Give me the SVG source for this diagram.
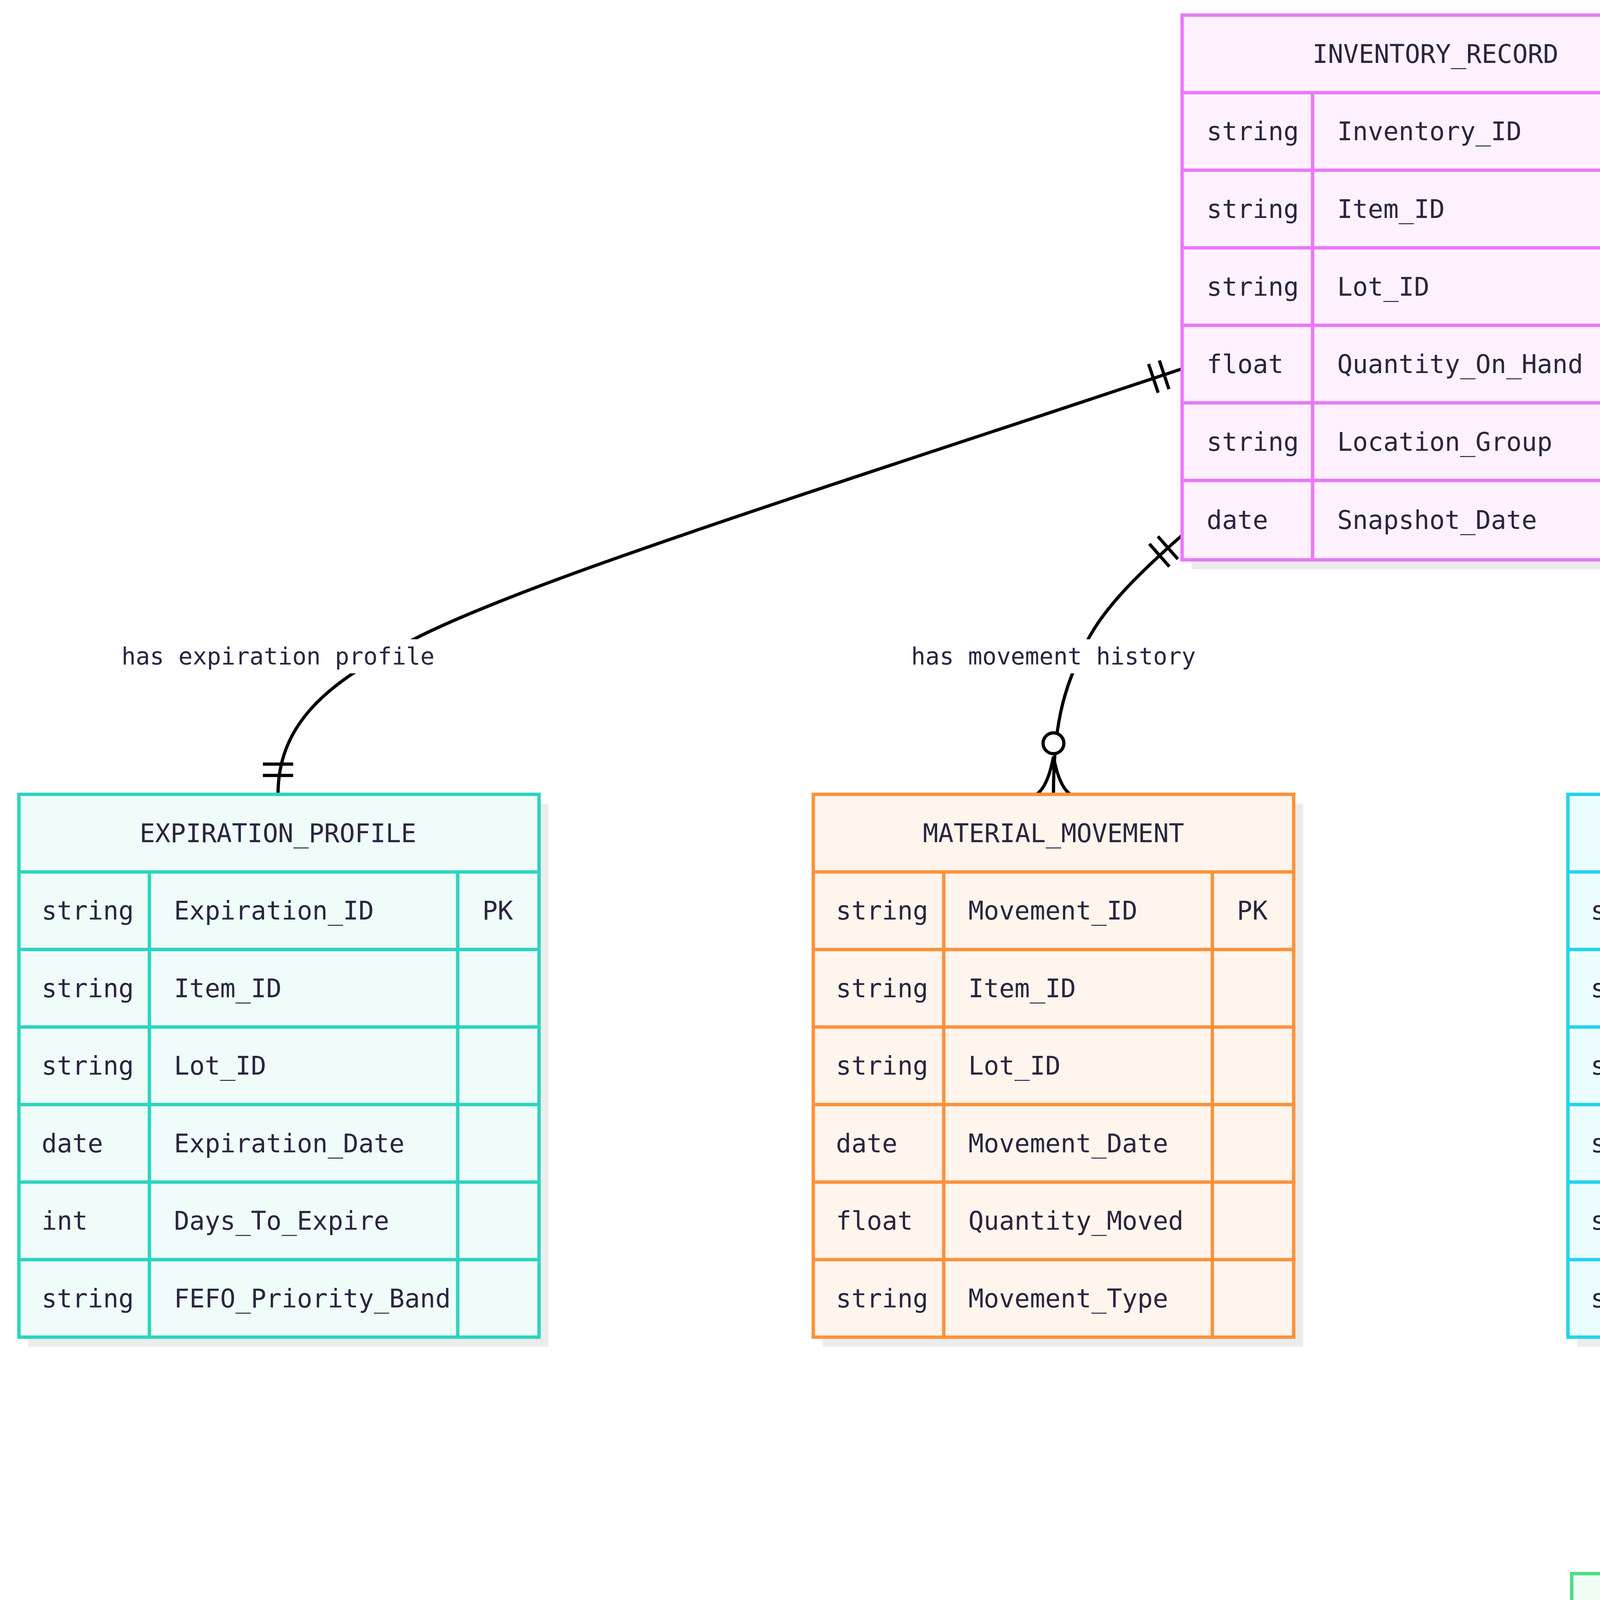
<svg xmlns="http://www.w3.org/2000/svg" width="7592" height="5263" viewBox="0 0 7592 5263">
<style>
text{font-family:"DejaVu Sans Mono","Liberation Mono",monospace;fill:#2a2540;font-size:13.5px;dominant-baseline:central}
.h{text-anchor:middle}
.lbl{font-size:12.5px;text-anchor:middle}
.sh{fill:#ececec}
.c{fill:none;stroke:#000;stroke-width:1.7}
.lb{fill:#fff}
#INVENTORY_RECORD rect.b,#INVENTORY_RECORD line{stroke:#e879f9}#INVENTORY_RECORD rect.b{fill:#fef1fe}
#SNAPSHOT_ARCHIVE rect.b,#SNAPSHOT_ARCHIVE line{stroke:#a78bfa}#SNAPSHOT_ARCHIVE rect.b{fill:#f4f1fe}
#EXPIRATION_PROFILE rect.b,#EXPIRATION_PROFILE line{stroke:#2dd4bf}#EXPIRATION_PROFILE rect.b{fill:#effcf9}
#MATERIAL_MOVEMENT rect.b,#MATERIAL_MOVEMENT line{stroke:#fb923c}#MATERIAL_MOVEMENT rect.b{fill:#fff5ec}
#FEFO_EXCEPTION rect.b,#FEFO_EXCEPTION line{stroke:#22d3ee}#FEFO_EXCEPTION rect.b{fill:#ecfeff}
#SNAPSHOT_RECORD rect.b,#SNAPSHOT_RECORD line{stroke:#f87171}#SNAPSHOT_RECORD rect.b{fill:#fef2f2}
#REVIEW_ACTION rect.b,#REVIEW_ACTION line{stroke:#4ade80}#REVIEW_ACTION rect.b{fill:#f0fdf4}
rect.b,line{stroke-width:1.8}
</style>
<defs>
<marker id="one" markerUnits="userSpaceOnUse" viewBox="-30 -15 32 30" refX="0" refY="0" markerWidth="32" markerHeight="30" orient="auto-start-reverse">
<path d="M-10,-8V8M-16,-8V8" stroke="#000" stroke-width="1.7" fill="none"/>
</marker>
<marker id="many" markerUnits="userSpaceOnUse" viewBox="-40 -15 42 30" refX="0" refY="0" markerWidth="42" markerHeight="30" orient="auto-start-reverse">
<path d="M-20,0Q-4,-3 0,-9M-20,0Q-4,3 0,9" stroke="#000" stroke-width="1.7" fill="none"/>
<circle cx="-27" cy="0" r="5.5" fill="#fff" stroke="#000" stroke-width="1.7"/>
</marker>
</defs>
<g transform="scale(4.8418)">
<g id="connectors">
<path class="c" d="M625,195 C430,260 270,310 215,340 C170,362 147,385 147,420" marker-start="url(#one)" marker-end="url(#one)"/>
<path class="c" d="M625,283 C600,305 580,325 572,345 C562,365 557,385 557,420" marker-start="url(#one)" marker-end="url(#many)"/>
<path class="c" d="M893,283 C918,305 940,325 950,345 C958,365 962,385 962,420" marker-start="url(#one)" marker-end="url(#many)"/>
<path class="c" d="M893,207 C960,236 1030,265 1093,292 C1180,332 1250,365 1275,400" marker-start="url(#one)" marker-end="url(#many)"/>
<path class="c" d="M1435,254 L1435,320 C1435,345 1428,370 1425,400" marker-start="url(#one)" marker-end="url(#many)"/>
<path class="c" d="M962,707 L962,832" marker-start="url(#one)" marker-end="url(#many)"/>
<rect class="lb" x="68" y="338" width="159" height="18"/><text class="lbl" x="147" y="347">has expiration profile</text>
<rect class="lb" x="475" y="338" width="164" height="18"/><text class="lbl" x="557" y="347">has movement history</text>
<rect class="lb" x="912" y="338" width="100" height="18"/><text class="lbl" x="962" y="347">may generate</text>
<rect class="lb" x="1038" y="280" width="110" height="18"/><text class="lbl" x="1093" y="289">represented in</text>
<rect class="lb" x="1402" y="338" width="66" height="18"/><text class="lbl" x="1435" y="347">captures</text>
<rect class="lb" x="897" y="771" width="130" height="18"/><text class="lbl" x="962" y="780">reviewed through</text>
</g>
<g id="INVENTORY_RECORD">
<rect class="sh" x="630" y="13" width="268" height="288"/>
<rect class="b" x="625" y="8" width="268" height="288"/>
<line x1="625" y1="49" x2="893" y2="49"/><line x1="625" y1="90" x2="893" y2="90"/><line x1="625" y1="131" x2="893" y2="131"/><line x1="625" y1="172" x2="893" y2="172"/><line x1="625" y1="213" x2="893" y2="213"/><line x1="625" y1="254" x2="893" y2="254"/>
<line x1="694" y1="49" x2="694" y2="296"/><line x1="851" y1="49" x2="851" y2="296"/>
<text class="h" x="759" y="28.5">INVENTORY_RECORD</text>
<text x="638" y="69.5">string</text><text x="707" y="69.5">Inventory_ID</text><text x="864" y="69.5">PK</text>
<text x="638" y="110.5">string</text><text x="707" y="110.5">Item_ID</text>
<text x="638" y="151.5">string</text><text x="707" y="151.5">Lot_ID</text>
<text x="638" y="192.5">float</text><text x="707" y="192.5">Quantity_On_Hand</text>
<text x="638" y="233.5">string</text><text x="707" y="233.5">Location_Group</text>
<text x="638" y="275">date</text><text x="707" y="275">Snapshot_Date</text>
</g>
<g id="SNAPSHOT_ARCHIVE">
<rect class="sh" x="1317" y="54" width="246" height="205"/>
<rect class="b" x="1312" y="49" width="246" height="205"/>
<line x1="1312" y1="90" x2="1558" y2="90"/><line x1="1312" y1="131" x2="1558" y2="131"/><line x1="1312" y1="172" x2="1558" y2="172"/><line x1="1312" y1="213" x2="1558" y2="213"/>
<line x1="1380" y1="90" x2="1380" y2="254"/><line x1="1515" y1="90" x2="1515" y2="254"/>
<text class="h" x="1435" y="69.5">SNAPSHOT_ARCHIVE</text>
<text x="1324" y="110.5">string</text><text x="1393" y="110.5">Snapshot_ID</text><text x="1528" y="110.5">PK</text>
<text x="1324" y="151.5">date</text><text x="1393" y="151.5">Snapshot_Date</text>
<text x="1324" y="192.5">int</text><text x="1393" y="192.5">Record_Count</text>
<text x="1324" y="233.5">string</text><text x="1393" y="233.5">Archive_Status</text>
</g>
<g id="EXPIRATION_PROFILE">
<rect class="sh" x="15" y="425" width="275" height="287"/>
<rect class="b" x="10" y="420" width="275" height="287"/>
<line x1="10" y1="461" x2="285" y2="461"/><line x1="10" y1="502" x2="285" y2="502"/><line x1="10" y1="543" x2="285" y2="543"/><line x1="10" y1="584" x2="285" y2="584"/><line x1="10" y1="625" x2="285" y2="625"/><line x1="10" y1="666" x2="285" y2="666"/>
<line x1="79" y1="461" x2="79" y2="707"/><line x1="242" y1="461" x2="242" y2="707"/>
<text class="h" x="147" y="440.5">EXPIRATION_PROFILE</text>
<text x="22" y="481.5">string</text><text x="92" y="481.5">Expiration_ID</text><text x="255" y="481.5">PK</text>
<text x="22" y="522.5">string</text><text x="92" y="522.5">Item_ID</text>
<text x="22" y="563.5">string</text><text x="92" y="563.5">Lot_ID</text>
<text x="22" y="604.5">date</text><text x="92" y="604.5">Expiration_Date</text>
<text x="22" y="645.5">int</text><text x="92" y="645.5">Days_To_Expire</text>
<text x="22" y="686.5">string</text><text x="92" y="686.5">FEFO_Priority_Band</text>
</g>
<g id="MATERIAL_MOVEMENT">
<rect class="sh" x="435" y="425" width="254" height="287"/>
<rect class="b" x="430" y="420" width="254" height="287"/>
<line x1="430" y1="461" x2="684" y2="461"/><line x1="430" y1="502" x2="684" y2="502"/><line x1="430" y1="543" x2="684" y2="543"/><line x1="430" y1="584" x2="684" y2="584"/><line x1="430" y1="625" x2="684" y2="625"/><line x1="430" y1="666" x2="684" y2="666"/>
<line x1="499" y1="461" x2="499" y2="707"/><line x1="641" y1="461" x2="641" y2="707"/>
<text class="h" x="557" y="440.5">MATERIAL_MOVEMENT</text>
<text x="442" y="481.5">string</text><text x="512" y="481.5">Movement_ID</text><text x="654" y="481.5">PK</text>
<text x="442" y="522.5">string</text><text x="512" y="522.5">Item_ID</text>
<text x="442" y="563.5">string</text><text x="512" y="563.5">Lot_ID</text>
<text x="442" y="604.5">date</text><text x="512" y="604.5">Movement_Date</text>
<text x="442" y="645.5">float</text><text x="512" y="645.5">Quantity_Moved</text>
<text x="442" y="686.5">string</text><text x="512" y="686.5">Movement_Type</text>
</g>
<g id="FEFO_EXCEPTION">
<rect class="sh" x="834" y="425" width="266" height="287"/>
<rect class="b" x="829" y="420" width="266" height="287"/>
<line x1="829" y1="461" x2="1095" y2="461"/><line x1="829" y1="502" x2="1095" y2="502"/><line x1="829" y1="543" x2="1095" y2="543"/><line x1="829" y1="584" x2="1095" y2="584"/><line x1="829" y1="625" x2="1095" y2="625"/><line x1="829" y1="666" x2="1095" y2="666"/>
<line x1="898" y1="461" x2="898" y2="707"/><line x1="1053" y1="461" x2="1053" y2="707"/>
<text class="h" x="962" y="440.5">FEFO_EXCEPTION</text>
<text x="841" y="481.5">string</text><text x="911" y="481.5">Exception_ID</text><text x="1066" y="481.5">PK</text>
<text x="841" y="522.5">string</text><text x="911" y="522.5">Inventory_ID</text><text x="1066" y="522.5">FK</text>
<text x="841" y="563.5">string</text><text x="911" y="563.5">Exception_Type</text>
<text x="841" y="604.5">string</text><text x="911" y="604.5">Exception_Reason</text>
<text x="841" y="645.5">string</text><text x="911" y="645.5">Priority_Level</text>
<text x="841" y="686.5">string</text><text x="911" y="686.5">Review_Status</text>
</g>
<g id="SNAPSHOT_RECORD">
<rect class="sh" x="1245" y="405" width="285" height="328"/>
<rect class="b" x="1240" y="400" width="285" height="328"/>
<line x1="1240" y1="441" x2="1525" y2="441"/><line x1="1240" y1="482" x2="1525" y2="482"/><line x1="1240" y1="523" x2="1525" y2="523"/><line x1="1240" y1="564" x2="1525" y2="564"/><line x1="1240" y1="605" x2="1525" y2="605"/><line x1="1240" y1="646" x2="1525" y2="646"/><line x1="1240" y1="687" x2="1525" y2="687"/>
<line x1="1309" y1="441" x2="1309" y2="728"/><line x1="1482" y1="441" x2="1482" y2="728"/>
<text class="h" x="1382" y="420.5">SNAPSHOT_RECORD</text>
<text x="1252" y="461.5">string</text><text x="1322" y="461.5">Snapshot_Record_ID</text><text x="1495" y="461.5">PK</text>
<text x="1252" y="502.5">string</text><text x="1322" y="502.5">Snapshot_ID</text><text x="1495" y="502.5">FK</text>
<text x="1252" y="543.5">string</text><text x="1322" y="543.5">Inventory_ID</text><text x="1495" y="543.5">FK</text>
<text x="1252" y="584.5">string</text><text x="1322" y="584.5">Item_ID</text>
<text x="1252" y="625.5">string</text><text x="1322" y="625.5">Lot_ID</text>
<text x="1252" y="666.5">float</text><text x="1322" y="666.5">Quantity_On_Hand</text>
<text x="1252" y="707.5">string</text><text x="1322" y="707.5">Location_Group</text>
</g>
<g id="REVIEW_ACTION">
<rect class="sh" x="836" y="837" width="262" height="246"/>
<rect class="b" x="831" y="832" width="262" height="246"/>
<line x1="831" y1="873" x2="1093" y2="873"/><line x1="831" y1="914" x2="1093" y2="914"/><line x1="831" y1="955" x2="1093" y2="955"/><line x1="831" y1="996" x2="1093" y2="996"/><line x1="831" y1="1037" x2="1093" y2="1037"/>
<line x1="922" y1="873" x2="922" y2="1078"/><line x1="1050" y1="873" x2="1050" y2="1078"/>
<text class="h" x="962" y="852.5">REVIEW_ACTION</text>
<text x="843" y="893.5">string</text><text x="935" y="893.5">Action_ID</text><text x="1063" y="893.5">PK</text>
<text x="843" y="934.5">string</text><text x="935" y="934.5">Exception_ID</text><text x="1063" y="934.5">FK</text>
<text x="843" y="975.5">string</text><text x="935" y="975.5">Reviewer_Role</text>
<text x="843" y="1016.5">datetime</text><text x="935" y="1016.5">Action_Time</text>
<text x="843" y="1057.5">string</text><text x="935" y="1057.5">Action_Status</text>
</g>
</g>
</svg>
